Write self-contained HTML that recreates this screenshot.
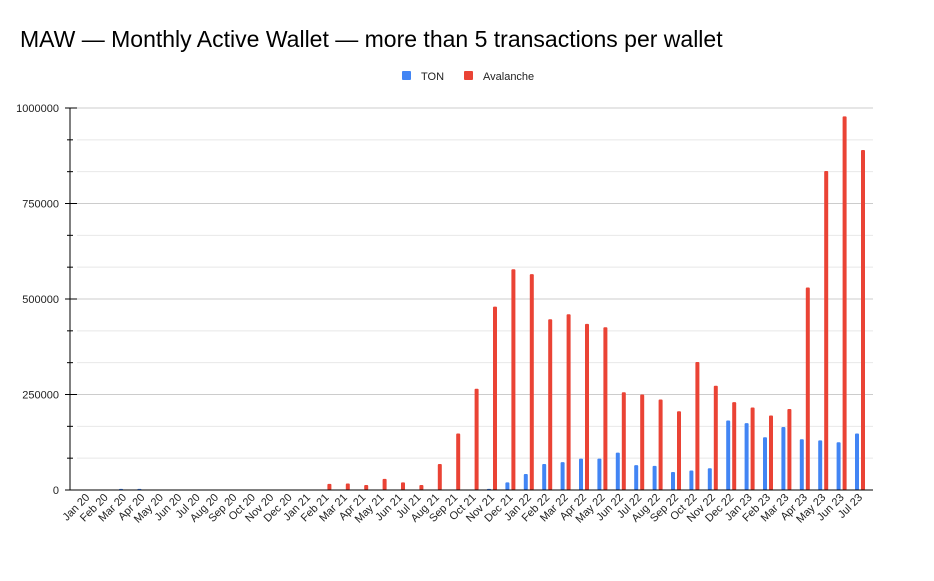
<!DOCTYPE html>
<html><head><meta charset="utf-8"><style>
body{margin:0;background:#fff;}
svg{display:block;font-family:"Liberation Sans",Arial,sans-serif;}
</style></head><body>
<svg id="c" width="934" height="581" viewBox="0 0 934 581" xmlns="http://www.w3.org/2000/svg">
<rect width="934" height="581" fill="#fff"/>
<text x="20" y="47" font-size="23" fill="#000">MAW — Monthly Active Wallet — more than 5 transactions per wallet</text>
<rect x="402" y="71" width="9" height="9" fill="#4285f4" rx="1"/>
<text x="421" y="80" font-size="11" fill="#222">TON</text>
<rect x="464" y="71" width="9" height="9" fill="#ea4335" rx="1"/>
<text x="483" y="80" font-size="11" fill="#222">Avalanche</text>
<g id="g"></g>
</svg>
<script>
var g=document.getElementById('g'),h='';
var y0=490,k=382/1e6;
for(var i=1;i<12;i++){var y=y0-i*382/12;h+='<line x1="77" x2="873" y1="'+y+'" y2="'+y+'" stroke="'+(i%3==0?'#ccc':'#e8e8e8')+'"/>';}
h+='<line x1="77" x2="873" y1="108" y2="108" stroke="#ccc"/>';
for(var i=0;i<=12;i++){var y=y0-i*382/12;h+='<line x1="'+(i%3==0?65:67)+'" x2="'+(i%3==0?77:73)+'" y1="'+y+'" y2="'+y+'" stroke="#000"/>';}
h+='<line x1="70" x2="70" y1="108" y2="490" stroke="#000"/>';
var yl=['0','250000','500000','750000','1000000'];
for(var i=0;i<5;i++)h+='<text x="59" y="'+(y0-i*95.5+4)+'" font-size="11" text-anchor="end" fill="#222">'+yl[i]+'</text>';
var av=[0,0,0,0,0,0,0,0,0,0,0,0,0,16e3,17e3,13e3,29e3,20e3,13e3,68e3,148e3,265e3,480e3,578e3,565e3,447e3,460e3,435e3,426e3,256e3,250e3,237e3,206e3,335e3,273e3,230e3,216e3,195e3,212e3,530e3,835e3,978e3,890e3];
var tn=[0,0,3e3,3e3,0,0,0,0,0,0,0,0,0,0,0,0,0,0,0,0,0,3e3,20e3,42e3,68e3,73e3,82e3,82e3,98e3,65e3,63e3,47e3,51e3,57e3,182e3,175e3,138e3,165e3,133e3,130e3,125e3,148e3];
tn=[0,0,3e3,3e3,0,0,0,0,0,0,0,0,0,0,0,0,0,0,0,0,0,3e3,20e3,42e3,68e3,73e3,82e3,82e3,98e3,65e3,63e3,47e3,51e3,57e3,182e3,175e3,138e3,165e3,133e3,130e3,125e3,148e3];
tn.unshift(0);tn=tn.slice(0,43);
// ensure TON alignment: index 0 Jan20
tn=[0,0,3e3,3e3,0,0,0,0,0,0,0,0,0,0,0,0,0,0,0,0,0,0,3e3,20e3,42e3,68e3,73e3,82e3,82e3,98e3,65e3,63e3,47e3,51e3,57e3,182e3,175e3,138e3,165e3,133e3,130e3,125e3,148e3];
var m=['Jan','Feb','Mar','Apr','May','Jun','Jul','Aug','Sep','Oct','Nov','Dec'];
for(var i=0;i<43;i++){
 var cx=84.2+18.4*i;
 var ht=tn[i]*k, ha=av[i]*k;
 if(ht>0)h+='<rect x="'+(cx-2)+'" y="'+(y0-ht)+'" width="4" height="'+ht+'" fill="#4285f4" rx="1"/>';
 if(ha>0)h+='<rect x="'+(cx+4)+'" y="'+(y0-ha)+'" width="4" height="'+ha+'" fill="#ea4335" rx="1"/>';
 var lab=m[i%12]+' '+(20+Math.floor(i/12));
 var tx=cx+6,ty=498;
 h+='<text x="'+tx+'" y="'+ty+'" font-size="11" text-anchor="end" fill="#222" transform="rotate(-45 '+tx+' '+ty+')">'+lab+'</text>';
}
h+='<line x1="70" x2="873" y1="490" y2="490" stroke="#000"/>';
g.innerHTML=h;
</script>
</body></html>
